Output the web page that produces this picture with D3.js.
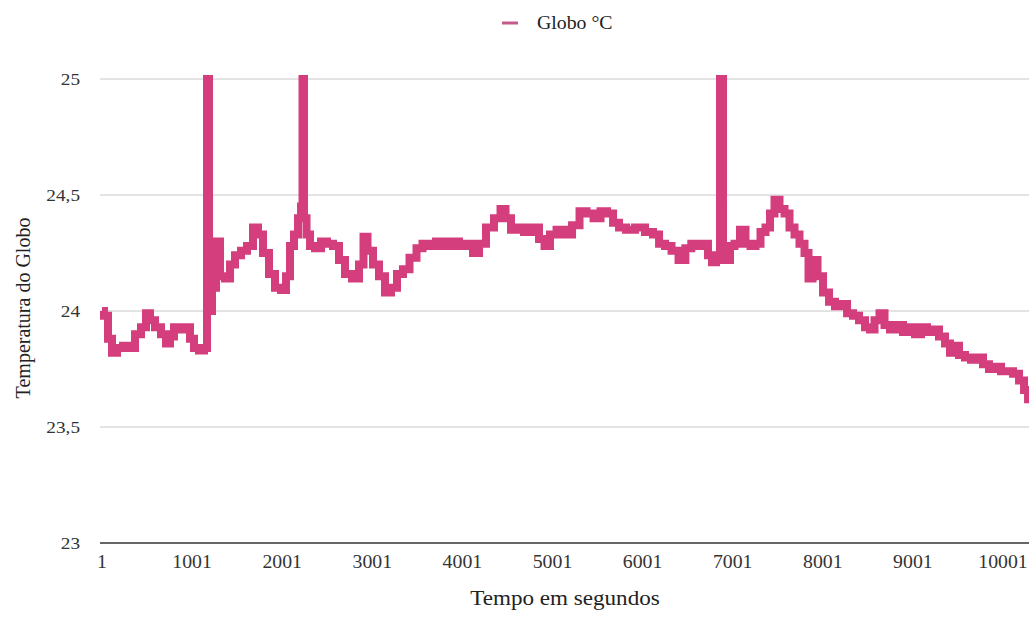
<!DOCTYPE html>
<html><head><meta charset="utf-8">
<script src="https://cdn.jsdelivr.net/npm/d3@7"></script>
<style>
body{margin:0;background:#fff;}
svg{display:block;font-family:"Liberation Serif","Times New Roman",serif;}
</style></head>
<body><svg id="c" width="1029" height="617"></svg>
<script>
// time in seconds
const seconds = [1,45,90,134,201,267,334,401,467,512,556,623,689,734,778,822,889,956,1000,1044,1111,1155,1178,1200,1244,1289,1333,1400,1444,1511,1577,1644,1710,1755,1821,1888,1954,2021,2065,2110,2154,2199,2221,2232,2254,2288,2332,2398,2465,2532,2598,2665,2731,2820,2887,2920,2976,3042,3109,3175,3242,3308,3375,3453,3530,3586,3664,3753,3841,3930,3997,4085,4152,4219,4307,4396,4452,4507,4574,4640,4729,4818,4885,4940,5007,5085,5174,5262,5340,5418,5495,5573,5640,5706,5773,5862,5973,6083,6150,6217,6283,6361,6439,6512,6571,6638,6704,6749,6793,6838,6882,6905,6949,6993,7049,7115,7171,7226,7282,7337,7393,7437,7493,7548,7604,7659,7715,7770,7826,7859,7915,7970,8037,8103,8170,8237,8303,8370,8436,8503,8547,8603,8658,8714,8780,8858,8925,8991,9058,9124,9191,9257,9324,9391,9435,9480,9546,9613,9679,9746,9812,9879,9946,10012,10079,10146,10212,10257,10301];
// globe temperature °C
const globo = [24.00,23.98,23.88,23.82,23.84,23.85,23.84,23.90,23.93,23.99,23.96,23.93,23.90,23.86,23.89,23.93,23.92,23.93,23.88,23.84,23.83,23.84,25.0,24.00,24.10,24.30,24.15,24.14,24.20,24.24,24.26,24.28,24.36,24.33,24.25,24.16,24.10,24.09,24.15,24.28,24.33,24.40,24.45,25.0,24.40,24.33,24.28,24.27,24.30,24.29,24.28,24.22,24.16,24.14,24.20,24.32,24.26,24.20,24.15,24.08,24.10,24.16,24.18,24.23,24.27,24.29,24.28,24.30,24.28,24.30,24.28,24.29,24.25,24.29,24.36,24.40,24.44,24.40,24.35,24.36,24.34,24.36,24.31,24.28,24.33,24.35,24.33,24.37,24.43,24.42,24.40,24.43,24.42,24.38,24.36,24.35,24.36,24.34,24.33,24.29,24.28,24.26,24.22,24.27,24.29,24.28,24.29,24.24,24.21,24.22,25.0,24.23,24.22,24.28,24.29,24.35,24.29,24.28,24.29,24.34,24.36,24.42,24.48,24.44,24.42,24.36,24.33,24.29,24.25,24.14,24.22,24.15,24.08,24.04,24.02,24.03,23.99,23.98,23.96,23.93,23.92,23.96,23.99,23.94,23.92,23.94,23.91,23.93,23.90,23.93,23.91,23.92,23.89,23.86,23.82,23.85,23.81,23.80,23.79,23.80,23.77,23.75,23.76,23.74,23.74,23.73,23.70,23.66,23.62];
const xTicks = [1,1001,2001,3001,4001,5001,6001,7001,8001,9001,10001];
const yTicks = [23,23.5,24,24.5,25];
const seriesName = "Globo °C";

const svg = d3.select("#c");
const W = 1029;
const x = d3.scaleLinear().domain([1,10001]).range([102,1003]);
const y = d3.scaleLinear().domain([23,25]).range([543,79]);
const fmt = d => String(d).replace(".", ",");
const SX = 1.1;

// gridlines
svg.append("g").selectAll("line").data(yTicks.filter(d=>d!==23)).join("line")
  .attr("x1",100).attr("x2",W).attr("y1",d=>y(d)).attr("y2",d=>y(d))
  .attr("stroke","#c8c8c8").attr("stroke-width",1);

// y labels
svg.append("g").selectAll("text").data(yTicks).join("text")
  .attr("transform",d=>`translate(80,${y(d)+6}) scale(${SX},1)`)
  .attr("text-anchor","end")
  .attr("font-size",17.5).attr("fill","#333").text(fmt);

// line
svg.append("clipPath").attr("id","cl").append("rect")
  .attr("x",95).attr("y",60).attr("width",W-95).attr("height",500);
const pts = seconds.map((s,i)=>[s,globo[i]]);
svg.append("path").datum(pts)
  .attr("clip-path","url(#cl)")
  .attr("fill","none").attr("stroke","#d43e7d").attr("stroke-width",8)
  .attr("stroke-linejoin","miter").attr("stroke-linecap","butt")
  .attr("d", d3.line().x(d=>x(d[0])).y(d=>y(d[1])).curve(d3.curveStep));

// baseline
svg.append("line").attr("x1",100).attr("x2",W).attr("y1",y(23)).attr("y2",y(23))
  .attr("stroke","#333").attr("stroke-width",1.5);

// x labels
svg.append("g").selectAll("text").data(xTicks).join("text")
  .attr("transform",d=>`translate(${x(d)},568) scale(${SX},1)`)
  .attr("text-anchor","middle")
  .attr("font-size",18).attr("fill","#333").text(d=>d);

// axis titles
svg.append("text").attr("transform",`translate(565,605) scale(${SX},1)`)
  .attr("text-anchor","middle")
  .attr("font-size",21).attr("fill","#222").text("Tempo em segundos");
svg.append("text").attr("transform","translate(30,308) rotate(-90)")
  .attr("text-anchor","middle").attr("font-size",20).attr("fill","#222")
  .text("Temperatura do Globo");

// legend
svg.append("line").attr("x1",502).attr("x2",518).attr("y1",23).attr("y2",23)
  .attr("stroke","#c45a8b").attr("stroke-width",3);
svg.append("text").attr("transform",`translate(537,29) scale(${SX},1)`)
  .attr("font-size",18).attr("fill","#222").text(seriesName);
</script></body></html>
